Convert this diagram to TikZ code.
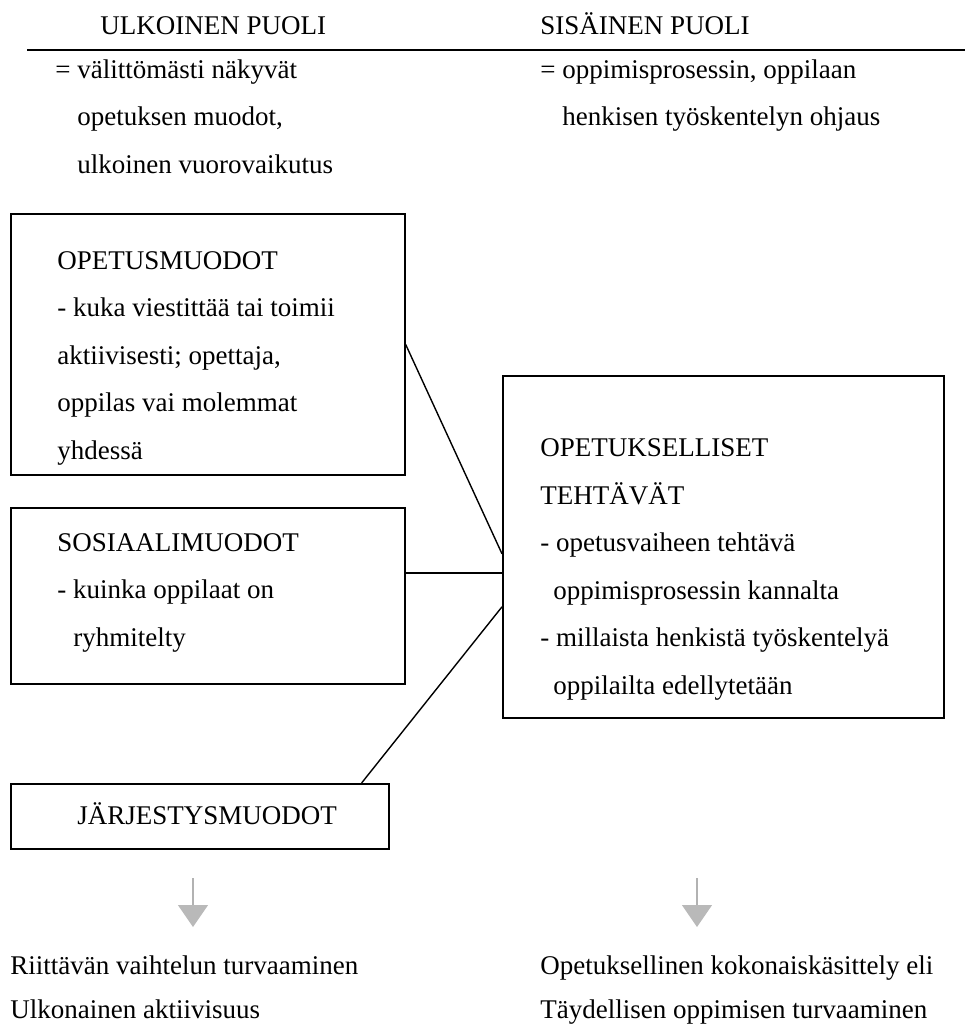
\documentclass[tikz,border=0pt]{standalone}
\usepackage{fontspec}
\setmainfont{Liberation Serif}
\usepackage{tikz}
\usetikzlibrary{arrows.meta,calc,positioning}
\tikzset{
  box/.style={draw, line width=0.8pt, anchor=north west, inner sep=0pt},
  txt/.style={anchor=base west, align=left, inner sep=0pt, font=\fontsize{13.5}{23.75}\selectfont},
  link/.style={line width=0.7pt},
  down/.style={draw=gray!60, line width=0.6pt, -{Triangle[width=15pt,length=11pt,color=gray!55]}}
}

\begin{document}
\begin{tikzpicture}[x=0.5pt,y=-0.5pt]
\useasboundingbox (0,0) rectangle (965,1034);
\node[txt] (ulkh) at (100,34) {ULKOINEN PUOLI};
\node[txt] (sish) at (540,34) {SISÄINEN PUOLI};
\draw[line width=0.8pt] (27,50) -- (965,50);
\node[txt] (ulkd) at (55,173) {= välittömästi näkyvät\\\hspace{11pt}opetuksen muodot,\\\hspace{11pt}ulkoinen vuorovaikutus};
\node[txt] (sisd) at (540,125.5) {= oppimisprosessin, oppilaan\\\hspace{11pt}henkisen työskentelyn ohjaus};

\node[box, minimum width=197pt, minimum height=130.5pt] (opm) at (10,213) {};
\node[txt] (opmt) at (57,459) {OPETUSMUODOT\\- kuka viestittää tai toimii\\aktiivisesti; opettaja,\\oppilas vai molemmat\\yhdessä};
\node[box, minimum width=197pt, minimum height=88pt] (sos) at (10,507) {};
\node[txt] (sost) at (57,646) {SOSIAALIMUODOT\\- kuinka oppilaat on\\\hspace{8pt}ryhmitelty};
\node[box, minimum width=189pt, minimum height=32.5pt] (jar) at (10,783) {};
\node[txt] (jart) at (77,824) {JÄRJESTYSMUODOT};
\node[box, minimum width=220.5pt, minimum height=171pt] (teht) at (502,375) {};
\node[txt] (tehtt) at (540,694) {OPETUKSELLISET\\TEHTÄVÄT\\- opetusvaiheen tehtävä\\\hspace{6.5pt}oppimisprosessin kannalta\\- millaista henkistä työskentelyä\\\hspace{6.5pt}oppilailta edellytetään};

\draw[link] (opm.east) -- ($(teht.west)+(0,7)$);
\draw[link] ($(sos.east)+(0,-23)$) -- ($(teht.west)+(0,26)$);
\draw[link] ($(jar.north east)+(-28,0)$) -- ($(teht.west)+(0,60)$);

\coordinate (ua) at (193,878);
\coordinate (ub) at (193,927);
\coordinate (sa) at (697,878);
\coordinate (sb) at (697,927);
\draw[down] (ua) -- (ub);
\draw[down] (sa) -- (sb);

\node[txt] (ulkr) at (10,974) {Riittävän vaihtelun turvaaminen};
\node[txt] (ulka) at (10,1018) {Ulkonainen aktiivisuus};
\node[txt] (sisr) at (540,974) {Opetuksellinen kokonaiskäsittely eli};
\node[txt] (sisa) at (540,1018) {Täydellisen oppimisen turvaaminen};
\end{tikzpicture}
\end{document}
